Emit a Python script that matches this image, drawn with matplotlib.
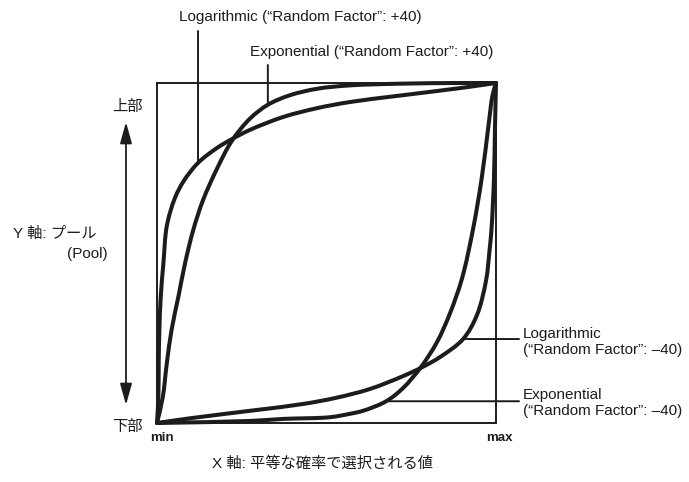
import numpy as np
import matplotlib
matplotlib.use("Agg")
import matplotlib.pyplot as plt
from matplotlib.path import Path
from matplotlib.patches import PathPatch, FancyArrowPatch
from matplotlib.transforms import blended_transform_factory

plt.rcParams['font.family'] = ['Liberation Sans', 'Noto Sans CJK JP', 'DejaVu Sans']

INK = '#1c1c1c'

# Curves: x = value picked with equal probability (min..max), y = pool position (bottom..top)
log_pos_x = [0.0, 0.004, 0.005, 0.007, 0.011, 0.019, 0.029, 0.053, 0.079, 0.121, 0.177,
             0.221, 0.274, 0.372, 0.472, 0.569, 0.708, 0.894, 1.0]
log_pos_y = [0.0, 0.076, 0.176, 0.274, 0.371, 0.471, 0.580, 0.662, 0.712, 0.765, 0.809,
             0.835, 0.862, 0.900, 0.926, 0.944, 0.962, 0.985, 1.0]

exp_pos_x = [0.0, 0.017, 0.029, 0.043, 0.063, 0.083, 0.107, 0.136, 0.177, 0.221, 0.274,
             0.327, 0.392, 0.472, 0.569, 0.717, 0.894, 1.0]
exp_pos_y = [0.0, 0.076, 0.176, 0.274, 0.371, 0.471, 0.568, 0.656, 0.748, 0.830, 0.895,
             0.936, 0.964, 0.983, 0.993, 0.998, 1.0, 1.0]

log_neg_x = [0.0, 0.106, 0.292, 0.431, 0.528, 0.628, 0.726, 0.782, 0.835, 0.903, 0.944,
             0.971, 0.981, 0.987, 0.994, 0.997, 1.0]
log_neg_y = [0.0, 0.015, 0.038, 0.056, 0.074, 0.100, 0.138, 0.164, 0.194, 0.247, 0.318,
             0.421, 0.509, 0.574, 0.721, 0.868, 1.0]

exp_neg_x = [0.0, 0.274, 0.372, 0.510, 0.569, 0.608, 0.676, 0.726, 0.779, 0.826, 0.864,
             0.900, 0.933, 0.958, 0.977, 0.990, 1.0]
exp_neg_y = [0.0, 0.006, 0.012, 0.017, 0.027, 0.036, 0.064, 0.103, 0.165, 0.238, 0.322,
             0.426, 0.574, 0.721, 0.868, 0.965, 1.0]

label_log_pos = 'Logarithmic (\u201cRandom Factor\u201d: +40)'
label_exp_pos = 'Exponential (\u201cRandom Factor\u201d: +40)'
label_log_neg = 'Logarithmic\n(\u201cRandom Factor\u201d: \u201340)'
label_exp_neg = 'Exponential\n(\u201cRandom Factor\u201d: \u201340)'

W, H = 689, 482
fig = plt.figure(figsize=(W / 100, H / 100), dpi=100)


def fx(x):
    return x / W


def fy(y):
    return 1 - y / H


def smooth_path(xs, ys, alpha=0.5):
    """Centripetal Catmull-Rom through the points, as cubic Bezier segments."""
    p = np.column_stack([xs, ys]).astype(float)
    p = np.vstack([2 * p[0] - p[1], p, 2 * p[-1] - p[-2]])
    verts = [p[1]]
    codes = [Path.MOVETO]
    for k in range(1, len(p) - 2):
        p0, p1, p2, p3 = p[k - 1], p[k], p[k + 1], p[k + 2]
        d0 = max(np.linalg.norm(p1 - p0), 1e-9) ** alpha
        d1 = max(np.linalg.norm(p2 - p1), 1e-9) ** alpha
        d2 = max(np.linalg.norm(p3 - p2), 1e-9) ** alpha
        b1 = (d0 ** 2 * p2 - d1 ** 2 * p0 + (2 * d0 ** 2 + 3 * d0 * d1 + d1 ** 2) * p1) \
            / (3 * d0 * (d0 + d1))
        b2 = (d2 ** 2 * p1 - d1 ** 2 * p3 + (2 * d2 ** 2 + 3 * d2 * d1 + d1 ** 2) * p2) \
            / (3 * d2 * (d2 + d1))
        verts += [b1, b2, p2]
        codes += [Path.CURVE4] * 3
    return Path(np.clip(verts, 0, 1), codes)


ax = fig.add_axes([fx(157), fy(423), (496 - 157) / W, (423 - 83) / H])
ax.set_xlim(0, 1)
ax.set_ylim(0, 1)
ax.set_xticks([])
ax.set_yticks([])
for s in ax.spines.values():
    s.set_linewidth(1.4)
    s.set_color(INK)

for xs, ys in [(log_pos_x, log_pos_y), (exp_pos_x, exp_pos_y),
               (log_neg_x, log_neg_y), (exp_neg_x, exp_neg_y)]:
    ax.add_patch(PathPatch(smooth_path(xs, ys), facecolor='none', edgecolor=INK,
                           lw=2.9, joinstyle='round', capstyle='round',
                           clip_on=False, zorder=3))

# Leader lines from the labels to points on the curves
tr_xdata_yfig = blended_transform_factory(ax.transData, fig.transFigure)
tr_xfig_ydata = blended_transform_factory(fig.transFigure, ax.transData)
lead = dict(arrowstyle='-', color=INK, lw=1.4, shrinkA=0, shrinkB=0)

i = 9
ax.annotate('', xy=(log_pos_x[i], log_pos_y[i]), xycoords='data',
            xytext=(log_pos_x[i], fy(31)), textcoords=tr_xdata_yfig,
            arrowprops=lead, annotation_clip=False)
i = 11
ax.annotate('', xy=(exp_pos_x[i], exp_pos_y[i]), xycoords='data',
            xytext=(exp_pos_x[i], fy(65)), textcoords=tr_xdata_yfig,
            arrowprops=lead, annotation_clip=False)
i = 9
ax.annotate('', xy=(log_neg_x[i], log_neg_y[i]), xycoords='data',
            xytext=(fx(519), log_neg_y[i]), textcoords=tr_xfig_ydata,
            arrowprops=lead, annotation_clip=False)
i = 6
ax.annotate('', xy=(exp_neg_x[i], exp_neg_y[i]), xycoords='data',
            xytext=(fx(519), exp_neg_y[i]), textcoords=tr_xfig_ydata,
            arrowprops=lead, annotation_clip=False)

txt = dict(color=INK, fontsize=11)
fig.text(fx(179), fy(17), label_log_pos, ha='left', va='center', **txt)
fig.text(fx(250), fy(52), label_exp_pos, ha='left', va='center', **txt)
fig.text(fx(523), fy(342), label_log_neg, ha='left', va='center', linespacing=1.2, **txt)
fig.text(fx(523), fy(403), label_exp_neg, ha='left', va='center', linespacing=1.2, **txt)

fig.text(fx(127), fy(107), '上部', ha='center', va='center', **txt)
fig.text(fx(127), fy(427), '下部', ha='center', va='center', **txt)
fig.text(fx(13), fy(234), 'Y 軸: プール', ha='left', va='center', **txt)
fig.text(fx(108), fy(254), '(Pool)', ha='right', va='center', **txt)
fig.text(fx(323), fy(464), 'X 軸: 平等な確率で選択される値', ha='center', va='center', **txt)

fig.text(fx(162), fy(438), 'min', ha='center', va='center', fontsize=9.5,
         fontweight='bold', color=INK)
fig.text(fx(499), fy(438), 'max', ha='center', va='center', fontsize=9.5,
         fontweight='bold', color=INK)

# Double-headed arrow for the pool axis
fig.add_artist(FancyArrowPatch(
    (fx(126), fy(405)), (fx(126), fy(122)), transform=fig.transFigure,
    arrowstyle='<|-|>,head_length=13,head_width=3.6', mutation_scale=1,
    color=INK, lw=1.3, shrinkA=0, shrinkB=0))

fig.savefig('out.png', dpi=100, facecolor='white')
